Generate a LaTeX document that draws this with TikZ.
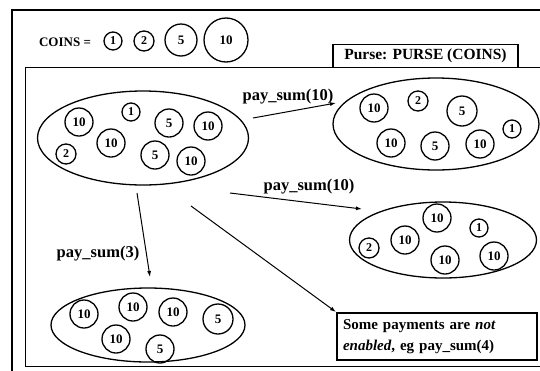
\documentclass[tikz,border=0pt]{standalone}
\usepackage{fontspec}
\setmainfont{Liberation Serif}
\usetikzlibrary{shapes.geometric,arrows.meta}
\begin{document}
\begin{tikzpicture}[x=1pt,y=-1pt,
  coin/.style={circle,draw,line width=1.3pt,inner sep=0pt,font=\bfseries\fontsize{13}{13}\selectfont},
  cone/.style={coin,minimum size=18pt,font=\bfseries\fontsize{12}{12}\selectfont},
  ctwo/.style={coin,minimum size=20pt,font=\bfseries\fontsize{12}{12}\selectfont},
  cbig/.style={coin,minimum size=28pt},
  bag/.style={ellipse,draw,line width=1.3pt,inner sep=0pt},
  lbl/.style={font=\bfseries\fontsize{16.5}{19}\selectfont,inner sep=0pt},
  notetext/.style={font=\bfseries\fontsize{15}{21}\selectfont},
  arr/.style={-{Latex[length=6pt,width=4pt]},line width=1pt}
]
\useasboundingbox (0,0) rectangle (540,370);
\fill[white] (0,0) rectangle (540,370);
\clip (0,0) rectangle (540,370);
% frames
\draw[line width=2pt] (12,10) rectangle (600,420);
\draw[line width=1pt] (25,67) rectangle (600,366);
% coin legend
\node[font=\bfseries\fontsize{13}{13}\selectfont,inner sep=0pt] (coinslbl) at (65,42) {COINS =};
\node[cone] (k1) at (113,41) {1};
\node[ctwo] (k2) at (144,41) {2};
\node[coin,minimum size=32pt] (k5) at (181,40) {5};
\node[coin,minimum size=44pt] (k10) at (226,40) {10};
% purse title
\node[draw,fill=white,line width=1.5pt,minimum width=185pt,minimum height=23pt,inner sep=0pt,font=\bfseries\fontsize{15.5}{18}\selectfont] (purse) at (425.5,56) {Purse: PURSE (COINS)};
% bag 1
\node[bag,minimum width=211pt,minimum height=94pt] (e1) at (143,138) {};
\node[cbig] (a1) at (79,122) {10};
\node[cone] (a2) at (131,112) {1};
\node[cbig] (a3) at (169,123) {5};
\node[cbig] (a4) at (208,126) {10};
\node[cbig] (a5) at (111,143) {10};
\node[ctwo] (a6) at (66,154) {2};
\node[cbig] (a7) at (155,155) {5};
\node[cbig] (a8) at (191,161) {10};
% bag 2
\node[bag,minimum width=206pt,minimum height=92pt] (e2) at (436,124) {};
\node[cbig] (b1) at (374,108) {10};
\node[ctwo] (b2) at (418,101) {2};
\node[coin,minimum size=30pt] (b3) at (462,111) {5};
\node[cone] (b4) at (512,129) {1};
\node[cbig] (b5) at (391,143) {10};
\node[cbig] (b6) at (435,146) {5};
\node[cbig] (b7) at (480,144) {10};
% bag 3
\node[bag,minimum width=187pt,minimum height=76pt] (e3) at (443,240) {};
\node[cbig] (d1) at (437,218) {10};
\node[cone] (d2) at (479,228) {1};
\node[cbig] (d3) at (405,240) {10};
\node[ctwo] (d4) at (369,248) {2};
\node[cbig] (d5) at (445,260) {10};
\node[cbig] (d6) at (494,256) {10};
% bag 4
\node[bag,minimum width=194pt,minimum height=74pt] (e4) at (148,325) {};
\node[cbig] (f1) at (84,314) {10};
\node[cbig] (f2) at (133,307) {10};
\node[cbig] (f3) at (173,312) {10};
\node[coin,minimum size=30pt] (f4) at (218,319) {5};
\node[cbig] (f5) at (116,339) {10};
\node[cbig] (f6) at (160,349) {5};
% note box
\node[draw,line width=2pt,text width=188pt,minimum height=47pt,align=left,notetext,inner xsep=6pt,inner ysep=2pt] (note) at (437,336.5)
  {Some payments are \textit{not}\\\textit{enabled}, eg pay\_sum(4)};
% connectors
\coordinate (s1) at (253,118);
\coordinate (t1) at (336,103);
\coordinate (s2) at (230,193);
\coordinate (t2) at (362,209);
\coordinate (s3) at (137,193);
\coordinate (t3) at (150,277);
\coordinate (s4) at (191,206);
\draw[arr] (s1) -- (t1);
\draw[arr] (s2) -- (t2);
\draw[arr] (s3) -- (t3);
\draw[arr] (s4) -- (note.north west);
% labels
\node[lbl] (l1) at (288,97) {pay\_sum(10)};
\node[lbl] (l2) at (309,187) {pay\_sum(10)};
\node[lbl] (l3) at (98,254) {pay\_sum(3)};
\end{tikzpicture}
\end{document}
